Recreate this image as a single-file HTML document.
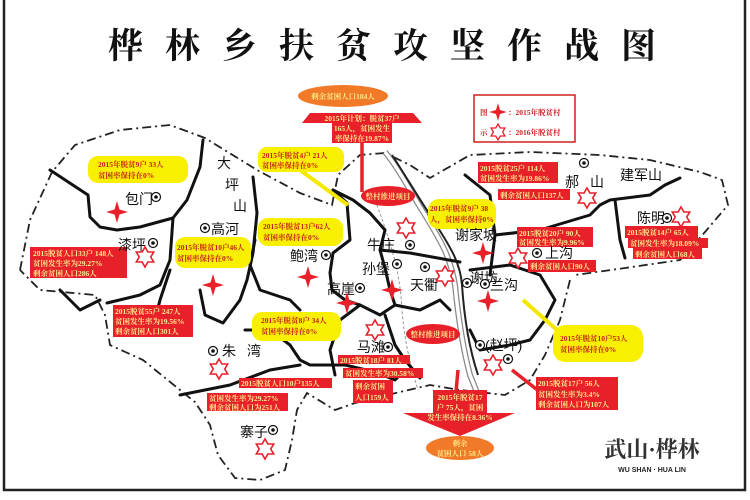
<!DOCTYPE html>
<html><head><meta charset="utf-8"><style>
html,body{margin:0;padding:0;background:#fff;}
svg{display:block;}
.t{font-family:"Liberation Serif","Noto Serif CJK SC",serif;}
.bx{font-family:"Liberation Serif","Noto Serif CJK SC",serif;font-size:7.5px;font-weight:bold;}
.pl{font-family:"Liberation Sans","Noto Sans CJK SC",sans-serif;font-size:14px;fill:#111;}
</style></head><body>
<svg width="750" height="500" viewBox="0 0 750 500" xmlns="http://www.w3.org/2000/svg">
<defs>
<path id="s4" d="M0,-11 L2.5,-2.5 L11,0 L2.5,2.5 L0,11 L-2.5,2.5 L-11,0 L-2.5,-2.5Z" fill="#e8202a"/>
<polygon id="s6" points="0,-10 2.89,-5 8.66,-5 5.77,0 8.66,5 2.89,5 0,10 -2.89,5 -8.66,5 -5.77,0 -8.66,-5 -2.89,-5" fill="#fff" stroke="#e8202a" stroke-width="1.6"/>
<g id="dt"><circle r="4.5" fill="#fff" stroke="#111" stroke-width="1.2"/><circle r="1.8" fill="#111"/></g>
</defs>
<rect x="4" y="-5" width="741" height="495" fill="none" stroke="#222" stroke-width="2.5"/>
<text x="393" y="58" text-anchor="middle" class="t" font-size="35" font-weight="bold" letter-spacing="22" fill="#111">桦林乡扶贫攻坚作战图</text>

<!-- outer dashed border -->
<g fill="none" stroke="#222" stroke-width="1.8" stroke-dasharray="9,4,2,4">
<path d="M20,270 L30,220 L52,172 L75,145 L120,130 L170,125 L205,138 L257,170 L300,193 L332,205 L338,175 L360,155 L385,153 L410,165 L430,178 L470,155 L530,152 L600,155 L650,160 L700,172 L722,180 L728,205 L705,232 L680,260 L625,268 L575,275"/>
<path d="M570,280 L560,320 L545,355 L530,380 L505,395 L460,390 L430,385 L400,392 L355,403 L335,410 L307,393 L297,410 L292,440 L285,470 L260,480 L235,478 L218,455 L210,425 L195,402 L180,390 L143,360 L110,345 L105,315 L95,295 L40,290 L20,270"/>
</g>
<!-- river -->
<g fill="none">
<path d="M385,152 C400,170 412,195 425,215 C440,240 450,255 455,285 C458,315 462,345 470,375 L478,395" stroke="#888" stroke-width="6"/>
<path d="M385,152 C400,170 412,195 425,215 C440,240 450,255 455,285 C458,315 462,345 470,375 L478,395" stroke="#fff" stroke-width="3.5"/>
<path d="M392,155 C405,175 420,200 432,218 C445,240 460,258 462,285 C464,315 468,345 478,375" stroke="#222" stroke-width="2"/>
<path d="M375,200 C390,240 400,270 402,310 C405,350 415,380 418,390" stroke="#999" stroke-width="1" stroke-dasharray="3,2"/>
</g>
<!-- region boundaries -->
<g fill="none" stroke="#111" stroke-width="3" stroke-linejoin="round" stroke-linecap="round">
<path d="M50,170 L88,195 L90,217 L100,227 L117,230 L140,227 L173,218 L187,200 L200,167 L203,140"/>
<path d="M173,218 L170,260 L160,285 L140,295 L107,303"/>
<path d="M253,177 L257,213 L253,253 L247,280 L240,300 L223,323 L205,315 L200,290"/>
<path d="M333,190 L347,203 L350,240 L333,253 L330,273 L332,290 L345,300 L360,305 L340,320 L330,350 L335,375"/>
<path d="M333,190 L353,200 L370,213 L385,230 L380,250 L385,268 L390,290 L395,305 L380,315 L360,305"/>
<path d="M380,250 L410,253 L460,262"/>
<path d="M395,305 L420,310 L440,300 L450,310"/>
<path d="M385,315 L395,345 L405,360 L420,378"/>
<path d="M465,175 L490,195 L495,235 L490,275"/>
<path d="M495,235 L540,230 L590,215 L600,205 L610,200 L650,195 L665,185 L680,178"/>
<path d="M615,200 L620,240 L625,258"/>
<path d="M470,270 L510,265 L540,275 L555,300 L545,320 L530,340 L510,345 L480,350 L470,330"/>
<path d="M170,270 L160,300 L155,320"/>
<path d="M245,330 L270,330 L290,345 L300,360 L310,365 L345,365 L375,372 L395,380 L400,375"/>
<path d="M180,395 L230,385 L270,370 L300,365"/>
<path d="M100,300 L80,310 L60,290"/>
<path d="M255,240 L250,265 L260,290 L290,300 L300,310"/>
</g>
<!-- yellow connectors -->
<g stroke="#f5e800" stroke-width="4"><line x1="300" y1="170" x2="348" y2="205"/><line x1="523" y1="300" x2="557" y2="330"/></g>
<line x1="512" y1="370" x2="540" y2="392" stroke="#e8202a" stroke-width="3.5"/>

<!-- top arrow -->
<line x1="362" y1="140" x2="362" y2="192" stroke="#e8202a" stroke-width="3.5"/>
<polygon points="310,113 413,113 422,123 392,123 392,143 332,143 332,123 302,123" fill="#e8202a"/>
<ellipse cx="343" cy="96" rx="45" ry="11" fill="#f07a28"/>
<g class="bx" fill="#ffe98a" text-anchor="middle">
<text x="343" y="99">剩余贫困人口184人</text>
<text x="362" y="121">2015年计划：脱贫37户</text>
<text x="362" y="131">165人，贫困发生</text>
<text x="362" y="141">率保持在19.87%</text>
</g>
<!-- bottom arrow -->
<line x1="458" y1="370" x2="456" y2="392" stroke="#e8202a" stroke-width="3.5"/>
<polygon points="433,390 487,390 487,413 515,413 460,436 403,413 433,413" fill="#e8202a"/>
<ellipse cx="460" cy="448" rx="34" ry="12" fill="#f07a28"/>
<g class="bx" fill="#ffe98a" text-anchor="middle">
<text x="460" y="400">2015年脱贫17</text>
<text x="460" y="410">户 75人，贫困</text>
<text x="460" y="420">发生率保持在8.36%</text>
<text x="460" y="446">剩余</text>
<text x="460" y="456">贫困人口 58人</text>
</g>

<!-- legend -->
<rect x="474" y="95" width="101" height="47" fill="#fff" stroke="#d02020" stroke-width="1.5"/>
<g class="bx" fill="#d02020" font-size="8">
<text x="480" y="115">图</text><use href="#s4" transform="translate(498,112) scale(0.8)"/><text x="508" y="115">：2015年脱贫村</text>
<text x="480" y="135">示</text><use href="#s6" transform="translate(498,132) scale(0.8)"/><text x="508" y="135">：2016年脱贫村</text>
</g>

<!-- yellow boxes -->
<g fill="#f8f000">
<rect x="88" y="156" width="100" height="27" rx="10"/>
<rect x="258" y="147" width="86" height="25" rx="9"/>
<rect x="175" y="237" width="76" height="31" rx="10"/>
<rect x="258" y="218" width="85" height="28" rx="10"/>
<rect x="428" y="199" width="68" height="30" rx="11"/>
<rect x="252" y="312" width="89" height="29" rx="10"/>
<rect x="553" y="325" width="90" height="37" rx="12"/>
</g>
<g class="bx" fill="#c82020">
<text x="98" y="167">2015年脱贫9户 33人</text><text x="98" y="178">贫困率保持在0%</text>
<text x="262" y="158">2015年脱贫4户 21人</text><text x="262" y="168">贫困率保持在0%</text>
<text x="177" y="250">2015年脱贫10户46人</text><text x="177" y="261">贫困率保持在0%</text>
<text x="263" y="229">2015年脱贫13户62人</text><text x="263" y="240">贫困率保持在0%</text>
<text x="430" y="211">2015年脱贫9户 38</text><text x="430" y="222">人，贫困率保持0%</text>
<text x="261" y="323">2015年脱贫8户 34人</text><text x="261" y="334">贫困率保持在0%</text>
<text x="560" y="341">2015年脱贫10户53人</text><text x="560" y="352">贫困率保持在0%</text>
</g>

<!-- red boxes -->
<g fill="#e8202a">
<rect x="30" y="247" width="97" height="31"/>
<rect x="113" y="305" width="80" height="32"/>
<rect x="478" y="162" width="80" height="21"/>
<rect x="498" y="189" width="72" height="11"/>
<rect x="517" y="227" width="76" height="20"/>
<rect x="528" y="260" width="68" height="12"/>
<rect x="625" y="226" width="73" height="12"/>
<rect x="628" y="238" width="80" height="10"/>
<rect x="633" y="248" width="69" height="11"/>
<rect x="338" y="355" width="72" height="9"/>
<rect x="343" y="368" width="80" height="10"/>
<rect x="353" y="380" width="40" height="23"/>
<rect x="239" y="378" width="93" height="10"/>
<rect x="207" y="393" width="81" height="18"/>
<rect x="536" y="377" width="82" height="33"/>
<ellipse cx="388" cy="196" rx="27" ry="10"/>
<ellipse cx="433" cy="334" rx="27" ry="10"/>
</g>
<g class="bx" fill="#ffe98a">
<text x="33" y="256">2015脱贫人口33户 148人</text><text x="33" y="266">贫困发生率为29.27%</text><text x="33" y="276">剩余贫困人口286人</text>
<text x="115" y="314">2015脱贫55户 247人</text><text x="115" y="324">贫困发生率为19.56%</text><text x="115" y="334">剩余贫困人口301人</text>
<text x="480" y="171">2015脱贫25户 114人</text><text x="480" y="181">贫困发生率为19.86%</text>
<text x="500" y="198">剩余贫困人口137人</text>
<text x="519" y="236">2015脱贫20户 90人</text><text x="519" y="245">贫困发生率为9.96%</text>
<text x="530" y="269">剩余贫困人口90人</text>
<text x="627" y="235">2015脱贫14户 65人</text>
<text x="630" y="246">贫困发生率为18.09%</text>
<text x="635" y="257">剩余贫困人口68人</text>
<text x="340" y="363">2015脱贫18户 81人</text>
<text x="345" y="376">贫困发生率为30.58%</text>
<text x="355" y="389">剩余贫困</text><text x="355" y="400">人口159人</text>
<text x="241" y="386">2015脱贫人口10户135人</text>
<text x="209" y="401">贫困发生率为29.27%</text><text x="209" y="410">剩余贫困人口为251人</text>
<text x="538" y="386">2015脱贫17户 56人</text><text x="538" y="397">贫困发生率为3.4%</text><text x="538" y="407">剩余贫困人口为107人</text>
<text x="388" y="199" text-anchor="middle">整村推进项目</text>
<text x="433" y="337" text-anchor="middle">整村推进项目</text>
</g>

<!-- place names -->
<g class="pl">
<text x="125" y="204">包门</text>
<text x="217" y="168">大</text><text x="225" y="190">坪</text><text x="233" y="211">山</text>
<text x="211" y="234">高河</text>
<text x="118" y="250">漆坪</text>
<text x="290" y="261">鲍湾</text>
<text x="367" y="250">牛庄</text>
<text x="362" y="274">孙堡</text>
<text x="327" y="294">高崖</text>
<text x="410" y="290">天衢</text>
<text x="455" y="240">谢家坡</text>
<text x="470" y="283">谢坊</text>
<text x="490" y="290">兰沟</text>
<text x="565" y="187">郝</text><text x="590" y="187">山</text>
<text x="620" y="180">建军山</text>
<text x="637" y="223">陈明</text>
<text x="545" y="258">上沟</text>
<text x="222" y="356">朱</text><text x="247" y="356">湾</text>
<text x="357" y="352">马滩</text>
<text x="485" y="350">(赵坪)</text>
<text x="240" y="437">寨子</text>
</g>
<g>
<use href="#dt" x="156" y="197"/><use href="#dt" x="205" y="228"/><use href="#dt" x="153" y="243"/>
<use href="#dt" x="326" y="255"/><use href="#dt" x="360" y="288"/><use href="#dt" x="397" y="264"/>
<use href="#dt" x="410" y="245"/><use href="#dt" x="425" y="267"/><use href="#dt" x="467" y="283"/>
<use href="#dt" x="485" y="284"/><use href="#dt" x="584" y="163"/><use href="#dt" x="667" y="218"/>
<use href="#dt" x="537" y="253"/><use href="#dt" x="213" y="351"/><use href="#dt" x="388" y="347"/>
<use href="#dt" x="480" y="345"/><use href="#dt" x="508" y="359"/><use href="#dt" x="273" y="430"/>
</g>
<!-- stars -->
<use href="#s4" x="117" y="212"/><use href="#s4" x="213" y="285"/><use href="#s4" x="308" y="277"/>
<use href="#s4" x="392" y="290"/><use href="#s4" x="347" y="303"/><use href="#s4" x="483" y="253"/>
<use href="#s4" x="488" y="301"/>
<use href="#s6" x="145" y="257"/><use href="#s6" x="406" y="228"/><use href="#s6" x="445" y="276"/>
<use href="#s6" x="587" y="198"/><use href="#s6" x="518" y="258"/><use href="#s6" x="681" y="217"/>
<use href="#s6" x="375" y="330"/><use href="#s6" x="219" y="369"/><use href="#s6" x="493" y="365"/>
<use href="#s6" x="265" y="449"/>

<!-- logo -->
<text x="652" y="457" text-anchor="middle" class="t" font-size="22" font-weight="bold" fill="#333">武山·桦林</text>
<text x="652" y="472" text-anchor="middle" font-family="Liberation Sans,sans-serif" font-size="7" font-weight="bold" fill="#222">WU   SHAN  ·  HUA   LIN</text>
</svg>
</body></html>
